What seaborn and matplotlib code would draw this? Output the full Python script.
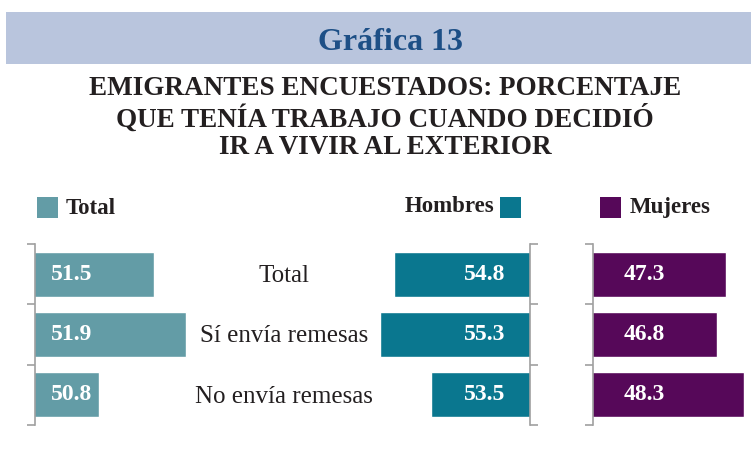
import matplotlib
matplotlib.use('Agg')
import matplotlib.pyplot as plt
import seaborn as sns
from matplotlib.patches import Rectangle
from matplotlib import transforms

# Datos
categorias = ['Total', 'Sí envía remesas', 'No envía remesas']
total = [51.5, 51.9, 50.8]
hombres = [54.8, 55.3, 53.5]
mujeres = [47.3, 46.8, 48.3]

sns.set_style('white')
plt.rcParams['font.family'] = ['Liberation Serif', 'DejaVu Serif']

W, H = 751, 462
fig = plt.figure(figsize=(W / 100, H / 100), dpi=100)

def fx(x):
    return x / W

def fy(y):
    return 1 - y / H

def rect_ax(x0, x1, y0, y1):
    return fig.add_axes([fx(x0), fy(y1), fx(x1) - fx(x0), (y1 - y0) / H])

c_total = '#639ca6'
c_hombres = '#0a778f'
c_mujeres = '#560859'
c_eje = '#a0a0a0'

# Encabezado
fig.add_artist(Rectangle((fx(6), fy(64)), fx(751) - fx(6), (64 - 12) / H,
                         transform=fig.transFigure, color='#b9c5dd', lw=0))
fig.text(fx(391), fy(42), 'Gráfica 13', ha='center', va='center',
         fontsize=23, fontweight='bold', color='#1d4f86')
fig.text(fx(385), fy(118), 'EMIGRANTES ENCUESTADOS: PORCENTAJE\nQUE TENÍA TRABAJO CUANDO DECIDIÓ\nIR A VIVIR AL EXTERIOR',
         ha='center', va='center', fontsize=19.5, fontweight='bold', color='#231f20',
         linespacing=1.16)

# Paneles
ax1 = rect_ax(35, 235, 244, 425)
ax2 = rect_ax(360, 530, 244, 425)
ax3 = rect_ax(593, 751, 244, 425)

sns.barplot(x=total, y=categorias, orient='h', color=c_total, width=0.75,
            saturation=1, ax=ax1)
sns.barplot(x=hombres, y=categorias, orient='h', color=c_hombres, width=0.75,
            saturation=1, ax=ax2)
sns.barplot(x=mujeres, y=categorias, orient='h', color=c_mujeres, width=0.75,
            saturation=1, ax=ax3)

ax1.set_xlim(50, 50 + 200 / 79.5)
ax2.set_xlim(50 + 170 / 28.3, 50)
ax3.set_xlim(40, 40 + 158 / 18.25)

for ax in (ax1, ax2, ax3):
    ax.set_ylim(2.5, -0.5)
    ax.set_xlabel('')
    ax.set_ylabel('')
    ax.set_xticks([])
    ax.set_yticks([-0.5, 0.5, 1.5, 2.5])
    ax.set_yticklabels([])
    ax.patch.set_alpha(0)
    for s in ax.spines.values():
        s.set_visible(False)
    ax.tick_params(axis='y', length=6, width=1.2, color=c_eje, direction='out')

ax1.tick_params(axis='y', left=True, right=False)
ax3.tick_params(axis='y', left=True, right=False)
ax2.yaxis.tick_right()
ax2.tick_params(axis='y', left=False, right=True)
for ax, lado in ((ax1, 'left'), (ax2, 'right'), (ax3, 'left')):
    ax.spines[lado].set_visible(True)
    ax.spines[lado].set_color(c_eje)
    ax.spines[lado].set_linewidth(1.2)

# Valores
px = 0.72
for i in range(3):
    ax1.annotate(f'{total[i]}', xy=(50, i), xytext=(57 * px, 0), textcoords='offset points',
                 ha='right', va='center', color='white', fontsize=17, fontweight='bold')
    ax2.annotate(f'{hombres[i]}', xy=(50, i), xytext=(-25 * px, 0), textcoords='offset points',
                 ha='right', va='center', color='white', fontsize=17, fontweight='bold')
    ax3.annotate(f'{mujeres[i]}', xy=(40, i), xytext=(72 * px, 0), textcoords='offset points',
                 ha='right', va='center', color='white', fontsize=17, fontweight='bold')

# Categorías
tr = transforms.blended_transform_factory(fig.transFigure, ax1.transData)
for i, cat in enumerate(categorias):
    fig.text(fx(284), i + 0.03, cat, transform=tr, ha='center', va='center',
             fontsize=18, color='#231f20')

# Leyenda
def cuadro(x, y, color):
    fig.add_artist(Rectangle((fx(x), fy(y + 21)), 21 / W, 21 / H,
                             transform=fig.transFigure, color=color, lw=0))

cuadro(37, 197, c_total)
fig.text(fx(66), fy(209), 'Total', ha='left', va='center', fontsize=16.5,
         fontweight='bold', color='#231f20')
cuadro(500, 197, c_hombres)
fig.text(fx(494), fy(207), 'Hombres', ha='right', va='center', fontsize=16.5,
         fontweight='bold', color='#231f20')
cuadro(600, 197, c_mujeres)
fig.text(fx(630), fy(207), 'Mujeres', ha='left', va='center', fontsize=16.5,
         fontweight='bold', color='#231f20')

fig.savefig('out.png', dpi=100, facecolor='white')
